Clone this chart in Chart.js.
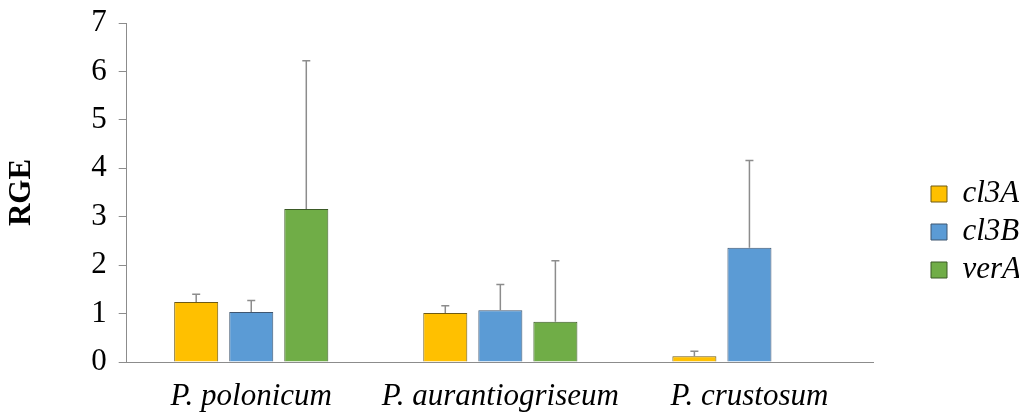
<!DOCTYPE html>
<html>
<head>
<meta charset="utf-8">
<script src="https://cdn.jsdelivr.net/npm/chart.js@4.4.1/dist/chart.umd.min.js"></script>
<style>
  body { margin: 0; background: #fff; }
  #wrap { width: 1019px; height: 413px; }
</style>
</head>
<body>
<div id="wrap"><canvas id="myChart" width="1019" height="413"></canvas></div>
<script>
// Datos del grafico
var especies = ["P. polonicum", "P. aurantiogriseum", "P. crustosum"];
var genes = ["cl3A", "cl3B", "verA"];

var cl3A = [1.24, 1.01, 0.12];
var cl3B = [1.03, 1.07, 2.36];
var verA = [3.16, 0.83, null];

// barras de error (solo hacia arriba)
var errCl3A = [0.16, 0.15, 0.10];
var errCl3B = [0.24, 0.53, 1.80];
var errVerA = [3.06, 1.26, null];

var yTicks = [0, 1, 2, 3, 4, 5, 6, 7];

var fuente = "'Liberation Serif', 'DejaVu Serif', serif";
var gris = "#8c8c8c";

// Dibuja las barras de error sobre cada barra
var errorBars = {
  id: "errorBars",
  afterDatasetsDraw: function (chart) {
    var ctx = chart.ctx;
    var y = chart.scales.y;
    ctx.save();
    ctx.strokeStyle = gris;
    ctx.lineWidth = 1.5;
    chart.data.datasets.forEach(function (ds, i) {
      var meta = chart.getDatasetMeta(i);
      meta.data.forEach(function (bar, j) {
        var v = ds.data[j];
        var e = ds.errores[j];
        if (v == null || e == null) return;
        var top = y.getPixelForValue(v + e);
        ctx.beginPath();
        ctx.moveTo(bar.x, bar.y);
        ctx.lineTo(bar.x, top);
        ctx.moveTo(bar.x - 4, top);
        ctx.lineTo(bar.x + 4, top);
        ctx.stroke();
      });
    });
    ctx.restore();
  }
};

// Mueve la leyenda a su sitio
var leyendaPos = {
  id: "leyendaPos",
  afterLayout: function (chart) {
    var lg = chart.legend;
    var w = lg.right - lg.left;
    var h = lg.bottom - lg.top;
    lg.left = 924;
    lg.right = lg.left + w;
    lg.top = 171.5;
    lg.bottom = lg.top + h;
  }
};

document.addEventListener("DOMContentLoaded", function () {
  var ctx = document.getElementById("myChart");

  new Chart(ctx, {
    type: "bar",
    data: {
      labels: especies,
      datasets: [
        {
          label: genes[0],
          data: cl3A,
          errores: errCl3A,
          backgroundColor: "#FFC000",
          borderColor: "#6e5a14",
          borderWidth: 1
        },
        {
          label: genes[1],
          data: cl3B,
          errores: errCl3B,
          backgroundColor: "#5B9BD5",
          borderColor: "#3f5670",
          borderWidth: 1
        },
        {
          label: genes[2],
          data: verA,
          errores: errVerA,
          backgroundColor: "#70AD47",
          borderColor: "#3b5a26",
          borderWidth: 1
        }
      ]
    },
    options: {
      responsive: false,
      animation: false,
      layout: {
        padding: { left: 3, top: 23, right: 38, bottom: 0 }
      },
      barPercentage: 0.8,
      categoryPercentage: 0.663,
      plugins: {
        tooltip: { enabled: false },
        legend: {
          position: "right",
          align: "start",
          labels: {
            boxWidth: 16,
            boxHeight: 16,
            padding: 7,
            color: "#000",
            font: { family: fuente, size: 31, style: "italic" }
          }
        }
      },
      scales: {
        x: {
          afterFit: function (axis) {
            axis.height = 51;
          },
          grid: { display: true, drawOnChartArea: false, drawTicks: false },
          border: { color: gris, width: 1 },
          ticks: {
            padding: 16,
            minRotation: 0,
            maxRotation: 0,
            autoSkip: false,
            color: "#000",
            font: { family: fuente, size: 31, style: "italic" }
          }
        },
        y: {
          min: 0,
          max: 7,
          afterBuildTicks: function (axis) {
            axis.ticks = yTicks.map(function (v) { return { value: v }; });
          },
          afterFit: function (axis) {
            axis.paddingTop = 0;
            axis.paddingBottom = 0;
          },
          grid: { drawOnChartArea: false, drawTicks: true, tickLength: 8, color: gris },
          border: { color: gris, width: 1 },
          ticks: {
            padding: 12,
            color: "#000",
            font: { family: fuente, size: 31 }
          },
          title: {
            display: true,
            text: "RGE",
            color: "#000",
            font: { family: fuente, size: 31, weight: "bold" },
            padding: { top: 0, bottom: 39 }
          }
        }
      }
    },
    plugins: [errorBars, leyendaPos]
  });
});
</script>
</body>
</html>
